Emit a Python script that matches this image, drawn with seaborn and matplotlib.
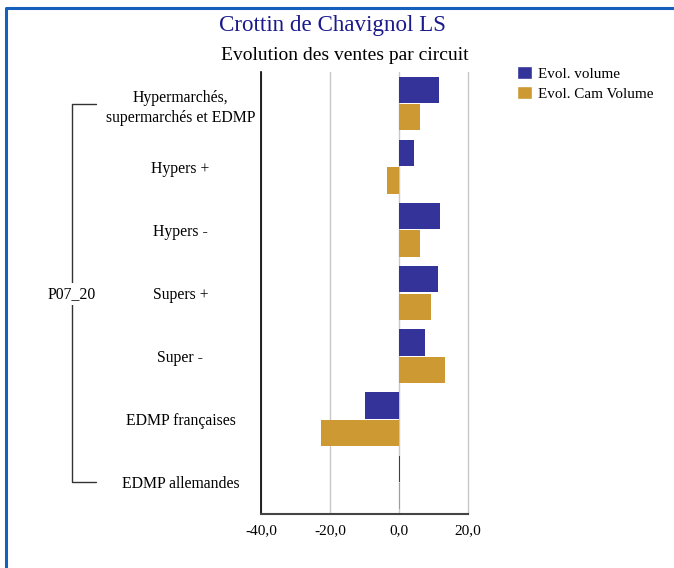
import pandas as pd
import seaborn as sns
import matplotlib.pyplot as plt
import matplotlib.transforms as mtransforms
from matplotlib.lines import Line2D
from matplotlib.patches import Patch
from matplotlib.ticker import FuncFormatter

circuits = ["Hypermarchés,\nsupermarchés et EDMP", "Hypers +", "Hypers -",
            "Supers +", "Super -", "EDMP françaises", "EDMP allemandes"]
evol_volume = [11.7, 4.4, 12.0, 11.4, 7.6, -9.8, 0.2]
evol_cam_volume = [6.2, -3.4, 6.2, 9.4, 13.4, -22.6, 0.2]
series = ["Evol. volume", "Evol. Cam Volume"]
group_label = "P07_20"

df = pd.DataFrame({
    "Circuit": circuits * 2,
    "Valeur": evol_volume + evol_cam_volume,
    "Serie": [series[0]] * len(circuits) + [series[1]] * len(circuits),
})

blue = "#333399"
gold = "#CC9933"

sns.set_style("white")
plt.rcParams["font.family"] = ["Liberation Serif", "DejaVu Serif"]
plt.rcParams["text.color"] = "black"
plt.rcParams["xtick.color"] = "black"
plt.rcParams["ytick.color"] = "black"

W, H = 674, 568
fig = plt.figure(figsize=(W / 100, H / 100), dpi=100)
ax = fig.add_axes([261 / W, 1 - 514 / H, (468 - 261) / W, (514 - 72) / H])

sns.barplot(data=df, y="Circuit", x="Valeur", hue="Serie", order=circuits,
            hue_order=series, palette=[blue, gold], orient="h",
            width=0.87, gap=0.04, ax=ax, legend=False, saturation=1, linewidth=0)

ax.set_xlim(-40, 20)
ax.set_xticks([-40, -20, 0, 20])
ax.xaxis.set_major_formatter(FuncFormatter(lambda v, p: f"{v:.1f}".replace(".", ",")))
ax.grid(axis="x", color="#c8c8c8", linewidth=1)
for gl in ax.get_xgridlines():
    gl.set_clip_on(False)
ax.set_axisbelow(True)
ax.set_xlabel("")
ax.set_ylabel("")
for s in ["top", "right"]:
    ax.spines[s].set_visible(False)
ax.spines["left"].set_color("black")
ax.spines["left"].set_linewidth(1.2)
ax.spines["bottom"].set_color("#444444")
ax.spines["bottom"].set_linewidth(1.5)
ax.tick_params(axis="x", length=0, pad=7, labelsize=11)
ax.tick_params(axis="y", length=0, pad=58, labelsize=11.3)
for lab in ax.get_yticklabels():
    lab.set_horizontalalignment("center")
    lab.set_multialignment("center")
    lab.set_linespacing(1.4)

# bracket for the group label
tr = mtransforms.blended_transform_factory(fig.transFigure, ax.transData)
x0, x1 = 72 / W, 96 / W
n = len(circuits)
fig.add_artist(Line2D([x1, x0, x0, x1], [0, 0, n - 1, n - 1], transform=tr,
                      color="#333333", linewidth=1))
fig.text(72 / W, 1 - 294 / H, group_label, ha="center", va="center", fontsize=11.3,
         bbox=dict(facecolor="white", edgecolor="none", pad=2))

# titles
fig.text(332 / W, 1 - 26 / H, "Crottin de Chavignol LS", ha="center", va="center",
         fontsize=16.6, color="#1a1a8c")
fig.text(345 / W, 1 - 56 / H, "Evolution des ventes par circuit", ha="center",
         va="center", fontsize=14)

# legend
handles = [Patch(facecolor=blue), Patch(facecolor=gold)]
fig.legend(handles, series, loc="upper left", bbox_to_anchor=(503 / W, 1 - 52 / H),
           frameon=False, fontsize=10.9, handlelength=1.0, handleheight=1.0,
           handletextpad=0.4, labelspacing=0.35)

# frame
fig.add_artist(Line2D([6 / W, 6 / W, 1.01], [-0.01, 1 - 7.5 / H, 1 - 7.5 / H],
                      transform=fig.transFigure, color="#1560bd", linewidth=2.2))

fig.savefig("out.png", dpi=100)
